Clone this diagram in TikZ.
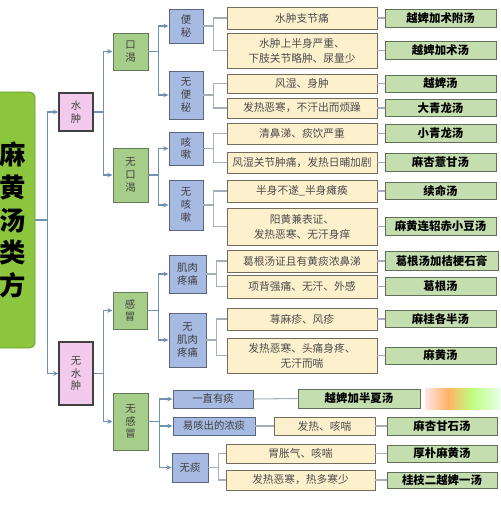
\documentclass[tikz,border=0pt]{standalone}
\usepackage{fontspec}
\setmainfont{Noto Sans CJK SC}
\usetikzlibrary{arrows.meta}
\definecolor{mainG}{RGB}{140,198,63}
\definecolor{pinkF}{RGB}{242,202,236}
\definecolor{lvG}{RGB}{166,205,138}
\definecolor{bluF}{RGB}{166,186,226}
\definecolor{symF}{RGB}{253,240,205}
\definecolor{resF}{RGB}{196,222,176}
\definecolor{arrC}{RGB}{110,145,180}
\definecolor{lnkC}{RGB}{165,175,185}
\tikzset{
	box/.style={draw, inner sep=0pt, align=center, line width=0.5pt},
	wh/.style 2 args={minimum width=#1*\px, minimum height=#2*\px},
	mainbox/.style={box, fill=mainG, draw=mainG!80!black, rounded corners=3pt, font=\fontsize{15}{18.6}\selectfont\bfseries},
	pk/.style={box, fill=pinkF, draw=black!75, line width=0.7pt, text=black!75, font=\fontsize{5.9}{7.2}\selectfont},
	gn/.style={box, fill=lvG, draw=lvG!60!black, text=black!75, font=\fontsize{5.9}{7.2}\selectfont},
	bl/.style={box, fill=bluF, draw=bluF!55!black, text=black!75, font=\fontsize{5.9}{7.2}\selectfont},
	sy/.style={box, fill=symF, draw=symF!45!black, text=black!70, font=\fontsize{6.1}{8.5}\selectfont},
	rs/.style={box, fill=resF, draw=resF!50!black, font=\fontsize{6.5}{8}\selectfont\bfseries},
	arr/.style={draw=arrC, line width=0.8pt, -{Stealth[length=3pt,width=2.6pt]}},
	lnk/.style={draw=lnkC, line width=0.6pt}
}
\begin{document}
\begin{tikzpicture}[x=0.02cm, y=-0.02cm]
	\def\px{0.02cm}
	\useasboundingbox (0,0) rectangle (500,516);
	% left column
	\node[mainbox, wh={45}{256}] (main) at (12.5,220) {麻\\黄\\汤\\类\\方};
	\node[pk, wh={34}{38}] (sz) at (76,112) {水\\肿};
	\node[pk, wh={34}{63}] (wsz) at (76,373.5) {无\\水\\肿};
	\node[gn, wh={35}{37}] (kk) at (130.5,51.5) {口\\渴};
	\node[gn, wh={35}{54}] (wkk) at (130.5,175) {无\\口\\渴};
	\node[gn, wh={34}{37}] (gm) at (130,310.5) {感\\冒};
	\node[gn, wh={35}{57}] (wgm) at (130.5,421.5) {无\\感\\冒};
	\node[bl, wh={34}{34}] (bm) at (186,26) {便\\秘};
	\node[bl, wh={34}{48}] (wbm) at (186,95) {无\\便\\秘};
	\node[bl, wh={34}{33}] (ks) at (186,148.5) {咳\\嗽};
	\node[bl, wh={34}{50}] (wks) at (186,205) {无\\咳\\嗽};
	\node[bl, wh={37}{38}] (jr) at (187.5,274) {肌肉\\疼痛};
	\node[bl, wh={37}{54}] (wjr) at (187.5,340) {无\\肌肉\\疼痛};
	\node[bl, wh={80}{18}] (yz) at (213,399) {一直有痰};
	\node[bl, wh={82}{18}] (yk) at (214,426) {易咳出的浓痰};
	\node[bl, wh={36}{29}] (wt) at (190,467.5) {无痰};
	% symptoms
	\node[sy, wh={150}{22}] (z1) at (302,18) {水肿支节痛};
	\node[sy, wh={150}{35}] (z2) at (302,50.5) {水肿上半身严重、\\下肢关节略肿、尿量少};
	\node[sy, wh={150}{19}] (z3) at (302,83.5) {风湿、身肿};
	\node[sy, wh={150}{20}] (z4) at (302,108) {发热恶寒，不汗出而烦躁};
	\node[sy, wh={150}{21}] (z5) at (302,133.5) {清鼻涕、痰饮严重};
	\node[sy, wh={150}{21}] (z6) at (302,162.5) {风湿关节肿痛，发热日晡加剧};
	\node[sy, wh={150}{22}] (z7) at (302,191) {半身不遂\_半身瘫痪};
	\node[sy, wh={150}{37}] (z8) at (302,226.5) {阳黄兼表证、\\发热恶寒、无汗身痒};
	\node[sy, wh={150}{22}] (z9) at (302,261) {葛根汤证且有黄痰浓鼻涕};
	\node[sy, wh={150}{23}] (z10) at (302,286.5) {项背强痛、无汗、外感};
	\node[sy, wh={150}{22}] (z11) at (302,319) {荨麻疹、风疹};
	\node[sy, wh={150}{35}] (z12) at (302,355.5) {发热恶寒、头痛身疼、\\无汗而喘};
	\node[sy, wh={101}{18}] (z13) at (324.5,426) {发热、咳喘};
	\node[sy, wh={149}{19}] (z14) at (300.5,453.5) {胃胀气、咳喘};
	\node[sy, wh={149}{20}] (z15) at (300.5,480) {发热恶寒，热多寒少};
	% formulas
	\node[rs, wh={111}{18}] (f1) at (440.5,18) {越婢加术附汤};
	\node[rs, wh={111}{18}] (f2) at (440.5,50.5) {越婢加术汤};
	\node[rs, wh={111}{17}] (f3) at (440.5,83.5) {越婢汤};
	\node[rs, wh={111}{17}] (f4) at (440.5,108) {大青龙汤};
	\node[rs, wh={111}{18}] (f5) at (440.5,133.5) {小青龙汤};
	\node[rs, wh={111}{18}] (f6) at (440.5,162.5) {麻杏薏甘汤};
	\node[rs, wh={111}{17}] (f7) at (440.5,191) {续命汤};
	\node[rs, wh={111}{18}] (f8) at (440.5,226.5) {麻黄连轺赤小豆汤};
	\node[rs, wh={113}{19}] (f9) at (441.5,261) {葛根汤加桔梗石膏};
	\node[rs, wh={111}{18}] (f10) at (440.5,286.5) {葛根汤};
	\node[rs, wh={111}{17}] (f11) at (440.5,319) {麻桂各半汤};
	\node[rs, wh={111}{17}] (f12) at (440.5,355.5) {麻黄汤};
	\node[rs, wh={122}{19}] (f13) at (359,398.5) {越婢加半夏汤};
	\node[rs, wh={110}{18}] (f14) at (442,426) {麻杏甘石汤};
	\node[rs, wh={110}{17}] (f15) at (442,453.5) {厚朴麻黄汤};
	\node[rs, wh={110}{16}] (f16) at (442,480) {桂枝二越婢一汤};
	% colour strip
	\shade[left color=red!10, right color=orange!60] (425,388) rectangle (448,409);
	\shade[left color=orange!60, right color=yellow!50!green!50] (448,388) rectangle (472,409);
	\shade[left color=yellow!50!green!50, right color=green!10] (472,388) rectangle (500,409);
	% arrows
	\draw[arr] (main.east) -- ++(12,0) |- (sz.west);
	\draw[arr] (main.east) -- ++(12,0) |- (wsz.west);
	\draw[arr] (sz.east) -- ++(10,0) |- (kk.west);
	\draw[arr] (sz.east) -- ++(10,0) |- (wkk.west);
	\draw[arr] (wsz.east) -- ++(10,0) |- (gm.west);
	\draw[arr] (wsz.east) -- ++(10,0) |- (wgm.west);
	\draw[arr] (kk.east) -- ++(10,0) |- (bm.west);
	\draw[arr] (kk.east) -- ++(10,0) |- (wbm.west);
	\draw[arr] (wkk.east) -- ++(10,0) |- (ks.west);
	\draw[arr] (wkk.east) -- ++(10,0) |- (wks.west);
	\draw[arr] (gm.east) -- ++(11,0) |- (jr.west);
	\draw[arr] (gm.east) -- ++(11,0) |- (wjr.west);
	\draw[arr] (wgm.east) -- ++(11,0) |- (yz.west);
	\draw[arr] (wgm.east) -- ++(11,0) |- (yk.west);
	\draw[arr] (wgm.east) -- ++(11,0) |- (wt.west);
	% plain links
	\foreach \a/\b/\c in {bm/z1/z2, wbm/z3/z4, ks/z5/z6, wks/z7/z8, jr/z9/z10, wjr/z11/z12, wt/z14/z15} {
		\draw[lnk] (\a.east) -- ++(10,0) |- (\b.west);
		\draw[lnk] (\a.east) -- ++(10,0) |- (\c.west);
	}
	\foreach \a/\b in {z1/f1, z2/f2, z3/f3, z4/f4, z5/f5, z6/f6, z7/f7, z8/f8, z9/f9, z10/f10, z11/f11, z12/f12, yz/f13, yk/z13, z13/f14, z14/f15, z15/f16}
		\draw[lnk] (\a.east) -- (\b.west);
\end{tikzpicture}
\end{document}
